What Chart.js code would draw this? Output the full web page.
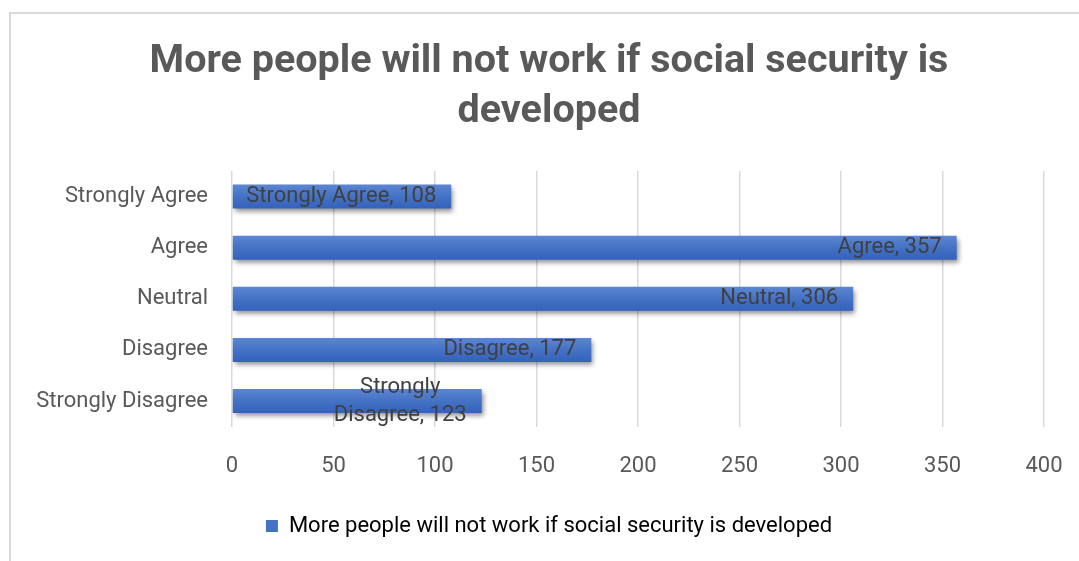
<!DOCTYPE html>
<html>
<head>
<meta charset="utf-8">
<script src="https://cdn.jsdelivr.net/npm/chart.js@4.4.0/dist/chart.umd.min.js"></script>
<style>
  body { margin: 0; background: #fff; }
  #frame { position: absolute; left: 9px; top: 12px; width: 1100px; height: 600px; border: 2px solid #d9d9d9; box-sizing: border-box; }
  #c { position: absolute; left: 0; top: 0; }
</style>
</head>
<body>
<div id="frame"></div>
<canvas id="c" width="1079" height="561"></canvas>
<script>
// datos del gráfico
const categories = ['Strongly Agree', 'Agree', 'Neutral', 'Disagree', 'Strongly Disagree'];
const counts = [108, 357, 306, 177, 123];
const seriesName = 'More people will not work if social security is developed';
const titleLines = ['More people will not work if social security is', 'developed'];
const xMax = 400;
const xStep = 50;

const FONT = 'Roboto, "Liberation Sans", Arial, sans-serif';

// sombra de las barras
const shadowPlugin = {
  id: 'barShadow',
  beforeDatasetDraw(chart) {
    const ctx = chart.ctx;
    ctx.save();
    ctx.shadowColor = 'rgba(0,0,0,0.45)';
    ctx.shadowBlur = 5;
    ctx.shadowOffsetX = 2;
    ctx.shadowOffsetY = 3;
  },
  afterDatasetDraw(chart) {
    chart.ctx.restore();
  }
};

// que las etiquetas largas del eje Y no se recorten
const yClipPlugin = {
  id: 'yClip',
  afterLayout(chart) {
    chart.scales.y.left = 0;
  }
};

// partir el texto en dos líneas lo más parejas posible
function wrapLabel(ctx, text, maxW) {
  if (ctx.measureText(text).width <= maxW) return [text];
  const words = text.split(' ');
  let best = null, bestW = Infinity;
  for (let k = 1; k < words.length; k++) {
    const a = words.slice(0, k).join(' ');
    const b = words.slice(k).join(' ');
    const w = Math.max(ctx.measureText(a).width, ctx.measureText(b).width);
    if (w < bestW) { bestW = w; best = [a, b]; }
  }
  return best || [text];
}

// etiquetas "Categoría, valor" dentro del extremo de la barra
const labelPlugin = {
  id: 'barLabels',
  afterDatasetsDraw(chart) {
    const ctx = chart.ctx;
    const meta = chart.getDatasetMeta(0);
    ctx.save();
    ctx.font = '22px ' + FONT;
    ctx.fillStyle = '#404040';
    ctx.textBaseline = 'middle';
    ctx.textAlign = 'center';
    meta.data.forEach((bar, i) => {
      const text = categories[i] + ', ' + counts[i];
      const lines = wrapLabel(ctx, text, 200);
      const boxW = Math.max(...lines.map(l => ctx.measureText(l).width));
      const cx = bar.x - 15 - boxW / 2;
      const lh = 28;
      const y0 = bar.y - (lines.length - 1) * lh / 2;
      lines.forEach((l, k) => ctx.fillText(l, cx, y0 + k * lh));
    });
    ctx.restore();
  }
};

function barGradient(context) {
  const chart = context.chart;
  const yScale = chart.scales.y;
  if (!yScale || context.dataIndex === undefined) return '#4472c4';
  const cy = yScale.getPixelForValue(context.dataIndex);
  const g = chart.ctx.createLinearGradient(0, cy - 12, 0, cy + 12);
  g.addColorStop(0, '#5c86d2');
  g.addColorStop(0.5, '#4472c4');
  g.addColorStop(1, '#3461bb');
  return g;
}

const chart = new Chart(document.getElementById('c').getContext('2d'), {
  type: 'bar',
  data: {
    labels: categories,
    datasets: [{
      label: seriesName,
      data: counts,
      backgroundColor: barGradient,
      borderWidth: 0,
      barPercentage: 0.94,
      categoryPercentage: 0.5
    }]
  },
  plugins: [shadowPlugin, yClipPlugin, labelPlugin],
  options: {
    indexAxis: 'y',
    responsive: false,
    animation: false,
    layout: { padding: { top: 13, left: 54, right: 35, bottom: 14 } },
    plugins: {
      title: {
        display: true,
        text: titleLines,
        color: '#595959',
        font: { family: FONT, size: 39.5, weight: 'bold', lineHeight: 1.266 },
        padding: { top: 24, bottom: 34 }
      },
      legend: {
        position: 'bottom',
        labels: {
          color: '#595959',
          font: { family: FONT, size: 22 },
          boxWidth: 12,
          boxHeight: 12,
          padding: 8,
          generateLabels: () => [{
            text: seriesName,
            fillStyle: '#4472c4',
            strokeStyle: '#4472c4',
            lineWidth: 0,
            datasetIndex: 0
          }]
        }
      },
      tooltip: { enabled: false }
    },
    scales: {
      x: {
        min: 0,
        max: xMax,
        ticks: { stepSize: xStep, color: '#595959', font: { family: FONT, size: 22 }, padding: 27 },
        grid: { color: '#d9d9d9', lineWidth: 1.5, drawTicks: false },
        border: { display: false },
        afterFit(scale) { scale.paddingRight = 0; }
      },
      y: {
        ticks: { color: '#595959', font: { family: FONT, size: 22 }, padding: 24 },
        grid: { display: false, drawTicks: false },
        border: { display: false },
        afterFit(scale) { scale.width = 178; }
      }
    }
  }
});
</script>
</body>
</html>
